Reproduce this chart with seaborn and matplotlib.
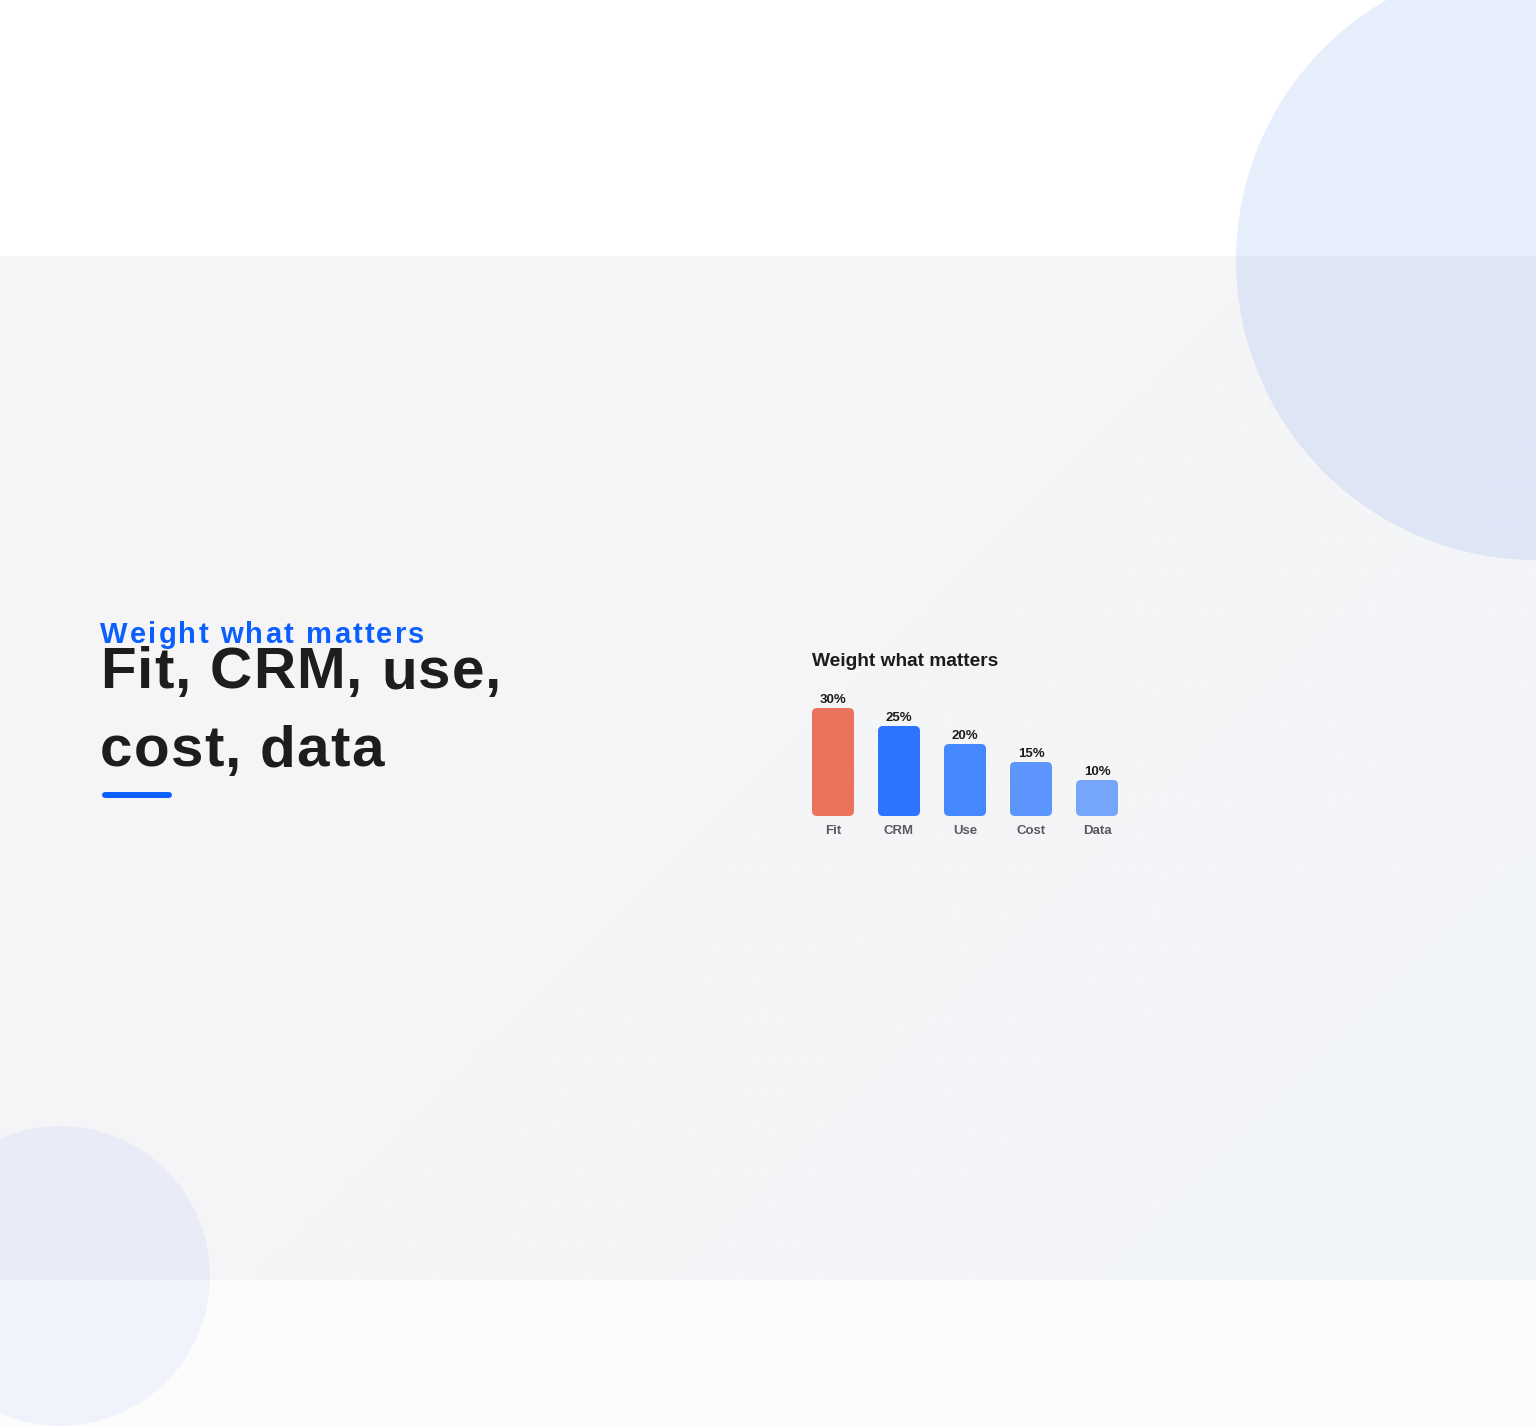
import numpy as np
import pandas as pd
import seaborn as sns
import matplotlib.pyplot as plt
from matplotlib.patches import FancyBboxPatch, Circle, Rectangle
from matplotlib import font_manager
from matplotlib.ft2font import FT2Font

categories = ["Fit", "CRM", "Use", "Cost", "Data"]
weights = [30, 25, 20, 15, 10]
value_labels = ["30%", "25%", "20%", "15%", "10%"]
bar_colors = ["#EA735E", "#2D74FF", "#4587FF", "#5C95FB", "#76A6FB"]

eyebrow = "Weight what matters"
headline = ["Fit, CRM, use,", "cost, data"]
chart_title = "Weight what matters"

W, H = 1536, 1426
DPI = 100
sns.set_theme(style="white")
plt.rcParams['font.family'] = ['Liberation Sans', 'DejaVu Sans']

fig = plt.figure(figsize=(W / DPI, H / DPI), dpi=DPI)

# background
bg = fig.add_axes([0, 0, 1, 1])
bg.set_xlim(0, W)
bg.set_ylim(H, 0)
bg.axis('off')
bg.add_patch(Rectangle((0, 0), W, 256, color="#FFFFFF", zorder=0))
bg.add_patch(Rectangle((0, 1280), W, H - 1280, color="#FCFCFD", zorder=0))
nx, ny = 200, 120
gx, gy = np.meshgrid(np.linspace(0, 1, nx), np.linspace(0, 1, ny))
t = np.clip((gx * 0.6 + gy * 0.4), 0, 1)[..., None]
c0 = np.array([248, 245, 246]) / 255
c1 = np.array([242, 245, 249]) / 255
img = c0 * (1 - t) + c1 * t
bg.imshow(img, extent=[0, W, 1280, 256], aspect='auto', zorder=1, interpolation='bilinear')
bg.add_patch(Circle((1536, 260), 300, color="#2563EB", alpha=0.10, lw=0, zorder=2))
bg.add_patch(Circle((60, 1276), 150, color="#2563EB", alpha=0.055, lw=0, zorder=2))

def px(x, y):
    return x / W, 1 - y / H

bold_path = font_manager.findfont(font_manager.FontProperties(family='Liberation Sans', weight='bold'))

def spaced_text(x, y, s, size, spacing, color):
    ft = FT2Font(bold_path)
    ft.set_size(size, DPI)
    cur = x
    for ch in s:
        g = ft.load_char(ord(ch))
        adv = g.linearHoriAdvance / 65536.0
        if ch != ' ':
            fig.text(*px(cur, y), ch, fontsize=size, fontweight='bold', color=color,
                     va='baseline', ha='left', family='Liberation Sans')
        cur += adv + spacing

spaced_text(100, 643, eyebrow, 21, 2.2, "#0B5FFF")
spaced_text(100, 688.5, headline[0], 42, 1.2, "#1E1C1D")
spaced_text(100, 766.5, headline[1], 42, 1.2, "#1E1C1D")
bg.plot([105, 169], [795, 795], color="#0B5FFF", lw=4.3, solid_capstyle='round', zorder=5)

# chart
fig.text(*px(812, 666), chart_title, fontsize=13.8, fontweight='bold', color="#1C1C1E",
         va='baseline', ha='left')

df = pd.DataFrame({"category": categories, "weight": weights})
ax = fig.add_axes([812 / W, (H - 816) / H, 306 / W, 108 / H])
sns.barplot(data=df, x="category", y="weight", hue="category", palette=bar_colors,
            width=42 / 66, legend=False, ax=ax, saturation=1)
ax.set_xlim(-0.5 * 42 / 66, 4 + 0.5 * 42 / 66)
ax.set_ylim(0, 30)
ax.axis('off')
ax.patch.set_alpha(0)

for p, col, lab, cat in zip(list(ax.patches), bar_colors, value_labels, categories):
    x0, y0 = p.get_x(), p.get_y()
    w, h = p.get_width(), p.get_height()
    p.remove()
    rx = 5 / 306 * (ax.get_xlim()[1] - ax.get_xlim()[0])
    ry = 5 / 108 * 30
    fb = FancyBboxPatch((x0 + rx, y0 + ry), w - 2 * rx, h - 2 * ry,
                        boxstyle=f"round,pad={rx}", mutation_aspect=ry / rx,
                        facecolor=col, edgecolor='none', clip_on=False)
    ax.add_patch(fb)
    cx = x0 + w / 2
    ax.annotate(lab, (cx, h), xytext=(0, 2), textcoords='offset pixels',
                ha='center', va='bottom', fontsize=9.5, fontweight='bold',
                color="#1C1C1E", annotation_clip=False)
    ax.annotate(cat, (cx, 0), xytext=(0, -8.5), textcoords='offset pixels',
                ha='center', va='top', fontsize=9.5, fontweight='bold',
                color="#5A5A5E", annotation_clip=False)

fig.savefig("out.png", dpi=DPI)
